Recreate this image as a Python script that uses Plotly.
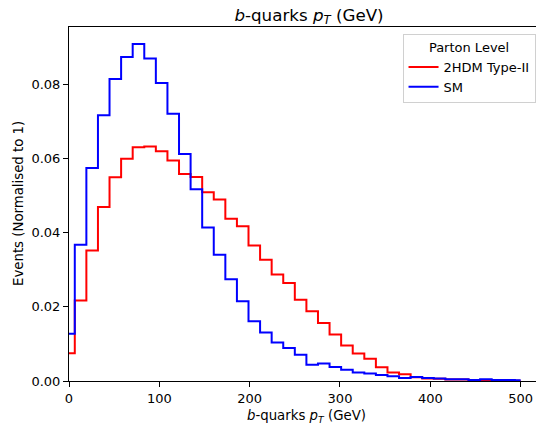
import numpy as np
import plotly.graph_objects as go

# Bin positions (GeV) — 40 points, step drawn at midpoints
pt_points = list(np.linspace(0, 500, 40))

hdm_type2 = [0.0075, 0.0217, 0.0352, 0.0469, 0.0549, 0.0599, 0.0630, 0.0632, 0.0619, 0.0594,
             0.0558, 0.0550, 0.0509, 0.0489, 0.0437, 0.0417, 0.0365, 0.0327, 0.0287, 0.0264,
             0.0219, 0.0188, 0.0156, 0.0125, 0.0096, 0.0074, 0.0060, 0.0037, 0.0023, 0.0018,
             0.0010, 0.0007, 0.0006, 0.0004, 0.0004, 0.0002, 0.0003, 0.0002, 0.0002, 0.0001]

sm = [0.0127, 0.0367, 0.0574, 0.0716, 0.0814, 0.0873, 0.0908, 0.0869, 0.0803, 0.0720,
      0.0612, 0.0517, 0.0414, 0.0340, 0.0274, 0.0215, 0.0161, 0.0131, 0.0104, 0.0089,
      0.0071, 0.0044, 0.0047, 0.0038, 0.0030, 0.0023, 0.0020, 0.0016, 0.0013, 0.0008,
      0.0011, 0.0008, 0.0007, 0.0005, 0.0005, 0.0003, 0.0005, 0.0003, 0.0003, 0.0002]

x_ticks = [0, 100, 200, 300, 400, 500]
y_ticks = [0.00, 0.02, 0.04, 0.06, 0.08]

FONT = "DejaVu Sans"

fig = go.Figure()
fig.add_trace(go.Scatter(x=pt_points, y=hdm_type2, mode="lines", line_shape="hvh",
                         line=dict(color="#ff0000", width=2), name="2HDM Type-II"))
fig.add_trace(go.Scatter(x=pt_points, y=sm, mode="lines", line_shape="hvh",
                         line=dict(color="#0000ff", width=2), name="SM"))

W, H = 536, 428
L, T, B = 69, 27, 47
fig.update_layout(
    width=W, height=H,
    margin=dict(l=L, r=0, t=T, b=B, pad=0),
    paper_bgcolor="white", plot_bgcolor="white",
    font=dict(family=FONT, size=13, color="black"),
    showlegend=True,
    legend=dict(
        x=0.999, y=0.98, xanchor="right", yanchor="top",
        xref="paper", yref="paper",
        bgcolor="rgba(255,255,255,0.8)", bordercolor="#d0d0d0", borderwidth=1,
        font=dict(family=FONT, size=13),
        title=dict(text="Parton Level", side="top center", font=dict(family=FONT, size=13)),
        itemwidth=30, tracegroupgap=0,
    ),
    xaxis=dict(range=[0, 517], tickvals=x_ticks, ticks="outside", ticklen=5, tickwidth=1,
               tickcolor="black", showline=True, linecolor="black", linewidth=1, mirror=True,
               showgrid=False, zeroline=False, tickfont=dict(family=FONT, size=13)),
    yaxis=dict(range=[0, 0.0954], tickvals=y_ticks, tickformat=".2f", ticks="outside",
               ticklen=5, tickwidth=1, tickcolor="black", showline=True, linecolor="black",
               linewidth=1, showgrid=False, zeroline=False, tickfont=dict(family=FONT, size=13)),
    title=dict(text="<i>b</i>-quarks <i>p</i><sub><i>T</i></sub> (GeV)",
               x=309 / W, xref="container", xanchor="center",
               y=1 - 15 / H, yref="container", yanchor="middle",
               font=dict(family=FONT, size=16.7)),
    annotations=[
        dict(text="<i>b</i>-quarks <i>p</i><sub><i>T</i></sub> (GeV)", xref="paper", yref="paper",
             x=(306 - L) / (W - L), y=-(416 - (H - B)) / (H - B - T), xanchor="center",
             yanchor="middle", showarrow=False, font=dict(family=FONT, size=13.3)),
        dict(text="Events (Normalised to 1)", xref="paper", yref="paper",
             x=-(L - 18) / (W - L), y=0.5, xanchor="center", yanchor="middle",
             textangle=-90, showarrow=False, font=dict(family=FONT, size=13.3)),
    ],
)

fig.write_html("out.html")
